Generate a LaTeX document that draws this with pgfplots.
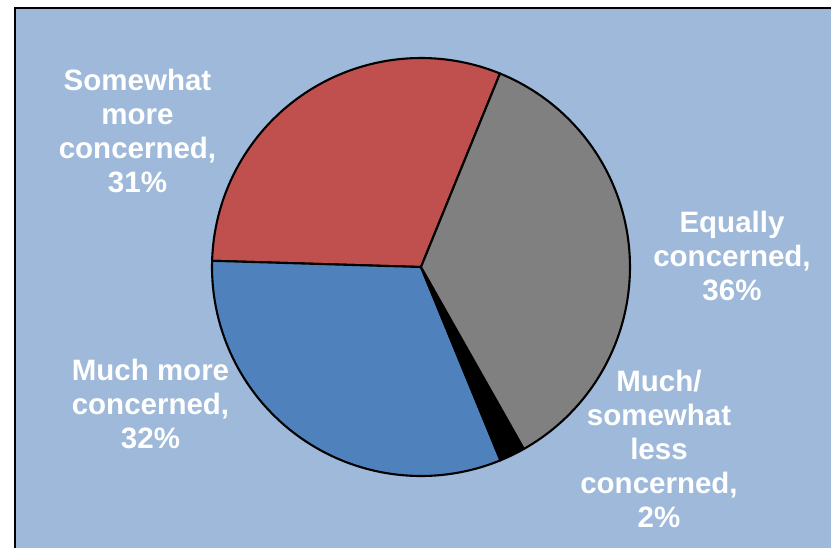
\documentclass[border=0pt]{standalone}
\usepackage{pgfplots}
\usepackage{pgfplotstable}
\pgfplotsset{compat=1.18}
\usepackage{fontspec}
\setmainfont{Liberation Sans}
\definecolor{bgblue}{RGB}{158,185,217}
\definecolor{pred}{RGB}{192,80,77}
\definecolor{pblue}{RGB}{79,129,189}
\definecolor{pgray}{RGB}{128,128,128}

\pgfplotstableread{
value
31
32
2
36
}\piedata

\begin{document}
\begin{tikzpicture}[x=1pt,y=1pt]
\path[use as bounding box] (0,0) rectangle (831,-547);
\clip (0,0) rectangle (831,-547);
\def\cx{421}\def\cy{-267}\def\r{209}
\xdef\tot{0}
\foreach \i in {0,...,3}{\pgfplotstablegetelem{\i}{value}\of\piedata \pgfmathparse{\tot+\pgfplotsretval}\xdef\tot{\pgfmathresult}}
\def\aA{67.8}
\pgfplotstablegetelem{0}{value}\of\piedata \pgfmathsetmacro\aB{\aA+360*\pgfplotsretval/\tot}
\pgfplotstablegetelem{1}{value}\of\piedata \pgfmathsetmacro\aC{\aB+360*\pgfplotsretval/\tot}
\pgfplotstablegetelem{2}{value}\of\piedata \pgfmathsetmacro\aD{\aC+360*\pgfplotsretval/\tot}
\pgfplotstablegetelem{3}{value}\of\piedata \pgfmathsetmacro\aE{\aD+360*\pgfplotsretval/\tot}
\begin{axis}[at={(15pt,-8pt)}, anchor=north west, scale only axis,
  width=830pt, height=550pt, xmin=15, xmax=845, ymin=-558, ymax=-8,
  xtick=\empty, ytick=\empty, axis line style={line width=1.6pt},
  axis background/.style={fill=bgblue}]
\addplot[fill=pred, draw=black, line width=2.1pt, line join=round, domain=\aA:\aB, samples=90, variable=\t] ({\cx+\r*cos(\t)},{\cy+\r*sin(\t)}) -- (axis cs:\cx,\cy) -- cycle;
\addplot[fill=pblue, draw=black, line width=2.1pt, line join=round, domain=\aB:\aC, samples=90, variable=\t] ({\cx+\r*cos(\t)},{\cy+\r*sin(\t)}) -- (axis cs:\cx,\cy) -- cycle;
\addplot[fill=black, draw=black, line width=2.1pt, line join=round, domain=\aC:\aD, samples=10, variable=\t] ({\cx+\r*cos(\t)},{\cy+\r*sin(\t)}) -- (axis cs:\cx,\cy) -- cycle;
\addplot[fill=pgray, draw=black, line width=2.1pt, line join=round, domain=\aD:\aE, samples=90, variable=\t] ({\cx+\r*cos(\t)},{\cy+\r*sin(\t)}) -- (axis cs:\cx,\cy) -- cycle;
\begin{scope}[every node/.style={font=\fontsize{29.5}{34}\selectfont\bfseries, align=center, text=white, inner sep=0pt}]
\node at (axis cs:137.5,-131) {Somewhat\\more\\concerned,\\31\%};
\node at (axis cs:732,-255.5) {Equally\\concerned,\\36\%};
\node at (axis cs:150.5,-403.5) {Much more\\concerned,\\32\%};
\node at (axis cs:659,-449) {Much/\\somewhat\\less\\concerned,\\2\%};
\end{scope}
\end{axis}
\end{tikzpicture}
\end{document}
